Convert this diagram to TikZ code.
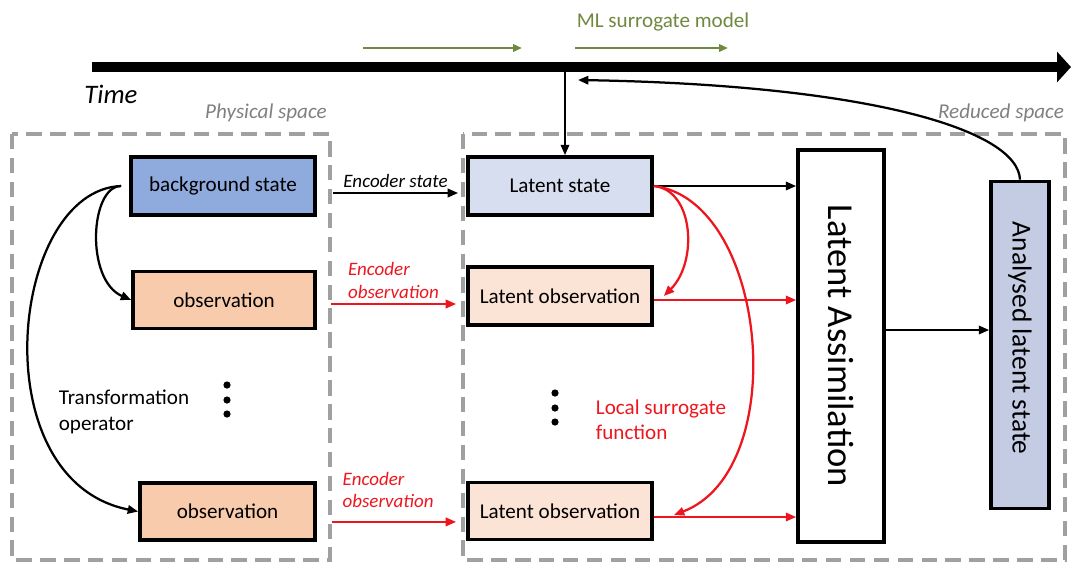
\documentclass[tikz,border=0pt]{standalone}
\usepackage{fontspec}
\setmainfont{Carlito}
\usetikzlibrary{arrows.meta}
\definecolor{stateblue}{RGB}{143,170,220}
\definecolor{latentblue}{RGB}{214,222,240}
\definecolor{analysedblue}{RGB}{196,204,228}
\definecolor{obspeach}{RGB}{248,203,173}
\definecolor{latentpeach}{RGB}{251,228,213}
\definecolor{mlgreen}{RGB}{112,136,64}
\definecolor{encred}{RGB}{238,22,30}
\definecolor{regiongray}{RGB}{160,160,160}
\tikzset{
	block/.style={draw, line width=2.6pt},
	region/.style={draw=regiongray, line width=2.4pt, dash pattern=on 11pt off 6pt},
	link/.style={-{Triangle[length=0.26cm, width=0.21cm]}, line width=1.6pt},
	redlink/.style={link, draw=encred},
	boxtext/.style={font=\fontsize{15}{18}\selectfont},
	smalltext/.style={font=\itshape\fontsize{13.5}{16}\selectfont}
}

\begin{document}
\begin{tikzpicture}[x=0.025cm, y=-0.025cm]
		\useasboundingbox (0,0) rectangle (1072,562);
		
		% Physical and reduced space
		\draw[region] (12,134) rectangle (330,560);
		\draw[region] (463,134) rectangle (1065,560);
		\node[text=gray, font=\itshape\fontsize{15}{18}\selectfont] at (266,113) {Physical space};
		\node[text=gray, font=\itshape\fontsize{15}{18}\selectfont] at (1001,113) {Reduced space};
		
		% Time axis
		\draw[line width=6.5pt, -{Triangle[length=0.35cm, width=0.75cm]}] (92,67) -- (1071,67);
		\coordinate (tick) at (565,67);
		\coordinate (back) at (578,80);
		\node[font=\itshape\fontsize{19}{22}\selectfont] at (111,94) {Time};
		
		% ML surrogate model
		\node[text=mlgreen, boxtext] at (663,22) {ML surrogate model};
		\draw[mlgreen, line width=2pt, -{Triangle[length=0.22cm, width=0.18cm]}] (363,48) -- (522,48);
		\draw[mlgreen, line width=2pt, -{Triangle[length=0.22cm, width=0.18cm]}] (575,48) -- (728,48);
		
		% Background state
		\node[block, fill=stateblue, minimum width=4.6cm, minimum height=1.45cm] (bg) at (223,186) {};
		\node[boxtext] at (bg) {background state};
		
		% Observations
		\node[block, fill=obspeach, minimum width=4.55cm, minimum height=1.425cm] (obs1) at (224,300) {};
		\node[boxtext] at (obs1) {observation};
		\node[block, fill=obspeach, minimum width=4.375cm, minimum height=1.425cm] (obs2) at (227.5,511.5) {};
		\node[boxtext] at (obs2) {observation};
		\foreach \y in {385,400,414} \fill (227,\y) circle (0.09cm);
		
		% Latent state
		\node[block, fill=latentblue, minimum width=4.6cm, minimum height=1.45cm] (lat) at (560,186) {};
		\node[boxtext] at (lat) {Latent state};
		
		% Latent observations
		\node[block, fill=latentpeach, minimum width=4.6cm, minimum height=1.45cm] (lobs1) at (560,296) {};
		\node[boxtext] at (lobs1) {Latent observation};
		\node[block, fill=latentpeach, minimum width=4.6cm, minimum height=1.425cm] (lobs2) at (560,511) {};
		\node[boxtext] at (lobs2) {Latent observation};
		\foreach \y in {393,408,422} \fill (555,\y) circle (0.09cm);
		
		% Latent assimilation
		\node[block, fill=white, minimum width=2.15cm, minimum height=9.8cm] (la) at (841,346) {};
		\node[rotate=-90, font=\fontsize{26}{30}\selectfont] at (la) {Latent Assimilation};
		
		% Analysed latent state
		\node[block, fill=analysedblue, minimum width=1.45cm, minimum height=8.175cm] (als) at (1020,345) {};
		\node[rotate=-90, font=\fontsize{19.5}{22}\selectfont] at ([yshift=0.17cm]als) {Analysed latent state};
		
		% Transformation operator
		\draw[link] ([xshift=-0.2cm]bg.west) .. controls (90,186) and (85,280) .. (obs1.west);
		\draw[link] ([xshift=-0.2cm]bg.west) .. controls (10,190) and (-20,480) .. (obs2.west);
		\node[boxtext, align=left] at (124,412) {Transformation\\operator};
		
		% Encoders
		\draw[link] ([shift={(0.4cm,-0.175cm)}]bg.east) -- ([shift={(-0.2cm,-0.175cm)}]lat.west)
			node[midway, above, smalltext] {Encoder state};
		\draw[redlink] ([shift={(0.35cm,-0.1cm)}]obs1.east) -- ([shift={(-0.25cm,-0.1cm)}]obs1.east -| lobs1.west)
			node[midway, above, smalltext, text=encred, align=left] {Encoder\\observation};
		\draw[redlink] ([shift={(0.38cm,-0.26cm)}]obs2.east) -- ([shift={(-0.25cm,-0.26cm)}]obs2.east -| lobs2.west)
			node[midway, above, yshift=0.2cm, xshift=-0.15cm, smalltext, text=encred, align=left] {Encoder\\observation};
		
		% Into the assimilation
		\draw[link] (lat.east) -- (lat.east -| la.west);
		\draw[redlink] ([yshift=-0.1cm]lobs1.east) -- ([yshift=-0.1cm]lobs1.east -| la.west);
		\draw[redlink] ([yshift=-0.15cm]lobs2.east) -- ([yshift=-0.15cm]lobs2.east -| la.west);
		
		% Local surrogate function
		\draw[redlink] (lat.east) .. controls (694,190) and (698,262) .. ([xshift=0.25cm]lobs1.east);
		\draw[redlink] (lat.east) .. controls (768,200) and (792,470) .. ([xshift=0.5cm, yshift=-0.1cm]lobs2.east);
		\node[boxtext, text=encred, align=left] at (661,420) {Local surrogate\\function};
		
		% Analysis and feedback to the time axis
		\draw[link] ([yshift=0.4cm]la.east) -- ([yshift=0.4cm]la.east -| als.west);
		\draw[link] (tick) -- (tick |- lat.north);
		\draw[link] (als.north) .. controls (1018,130) and (870,85) .. (back);
	\end{tikzpicture}
\end{document}
